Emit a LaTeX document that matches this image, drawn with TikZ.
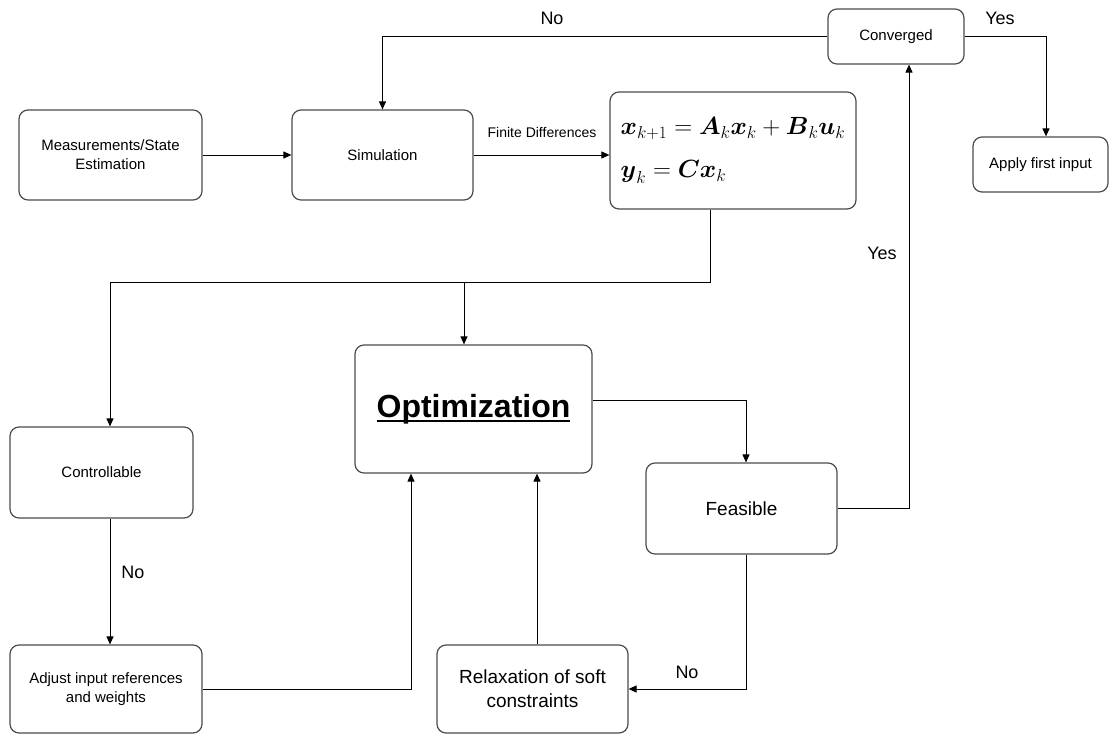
\documentclass[tikz,border=0pt]{standalone}
\usepackage{amsmath}
\usepackage[no-math]{fontspec}
\setmainfont{Liberation Sans}
\usepackage{tikz}
\usetikzlibrary{arrows.meta}
\tikzstyle{block} = [draw=black!70, line width=1.2pt, fill=white, rounded corners=9pt, align=center, inner sep=0pt, font=\fontsize{15}{19}\selectfont]
\tikzstyle{arrow} = [line width=1pt,->,>={Triangle[length=8pt,width=7pt]}]
\tikzstyle{lbl} = [inner sep=0pt, font=\fontsize{18}{22}\selectfont]
% underline that sits just under the baseline
\newcommand{\ulword}[1]{\setbox0\hbox{#1}\rlap{\rule[-5pt]{\wd0}{2pt}}\box0}

\begin{document}
\begin{tikzpicture}[x=1pt,y=-1pt]
	\useasboundingbox (0,0) rectangle (1109,734);
	% Blocks:
	% Every block is placed at its centre, sizes are given in pixels of the original sketch
	\node [block, minimum width=183pt, minimum height=90pt] (meas) at (110.5,155) {Measurements/State\\Estimation};
	\node [block, minimum width=181pt, minimum height=90pt] (sim) at (382.5,155) {Simulation};
	\node [block, minimum width=246pt, minimum height=117pt, align=left, font=\fontsize{26}{43}\selectfont] (model) at (733,150.5)
		{$\boldsymbol{x}_{k+1} = \boldsymbol{A}_k\boldsymbol{x}_k + \boldsymbol{B}_k\boldsymbol{u}_k$\\
		 $\boldsymbol{y}_k = \boldsymbol{C}\boldsymbol{x}_k$};
	\node [block, minimum width=136pt, minimum height=55pt] (conv) at (896,36.5) {Converged};
	\node [block, minimum width=135pt, minimum height=55pt] (apply) at (1040.5,164.5) {Apply first input};
	\node [block, minimum width=237pt, minimum height=128pt, font=\fontsize{32}{38}\selectfont\bfseries] (opt) at (473.5,409) {\ulword{Optimization}};
	\node [block, minimum width=191pt, minimum height=91pt, font=\fontsize{19}{24}\selectfont] (feas) at (741.5,508.5) {Feasible};
	\node [block, minimum width=183pt, minimum height=91pt] (ctrl) at (101.5,472.5) {Controllable};
	\node [block, minimum width=192pt, minimum height=88pt] (adjust) at (106,689) {Adjust input references\\and weights};
	\node [block, minimum width=191pt, minimum height=88pt, font=\fontsize{19}{24}\selectfont] (relax) at (532.5,689) {Relaxation of soft\\constraints};

	% Branch points of the model output:
	\coordinate (busR) at (710,282);
	\coordinate (busM) at (464,282);
	\coordinate (busL) at (110,282);

	% Connectors:
	\draw [arrow] (meas) -- (sim);
	\draw [arrow] (sim.east) -- (sim.east -| model.west);
	\draw [line width=1pt] (busR |- model.south) -- (busR) -- (busL);
	\draw [arrow] (busM) -- (busM |- opt.north);
	\draw [arrow] (busL) -- (busL |- ctrl.north);
	\draw [arrow] (busL |- ctrl.south) -- (busL |- adjust.north);
	\draw [arrow] (adjust.east) -| ([xshift=-62.5pt]opt.south);
	\draw [arrow] ([xshift=4.5pt]relax.north) -- ([xshift=4.5pt]relax.north |- opt.south);
	\draw [arrow] ([yshift=9pt]opt.east) -| ([xshift=4.5pt]feas.north);
	\draw [arrow] ([xshift=4.5pt]feas.south) |- (relax.east);
	\draw [arrow] (feas.east) -| ([xshift=13pt]conv.south);
	\draw [arrow] (conv.east) -| ([xshift=5.5pt]apply.north);
	\draw [arrow] (conv.west) -| (sim.north);

	% Labels:
	\node [inner sep=0pt, font=\fontsize{14}{17}\selectfont] (fd) at (542,132) {Finite Differences};
	\node [lbl] (noConv) at (552,18) {No};
	\node [lbl] (yesConv) at (1000,18) {Yes};
	\node [lbl] (yesFeas) at (882,253) {Yes};
	\node [lbl] (noCtrl) at (133,572) {No};
	\node [lbl] (noFeas) at (687,672) {No};
\end{tikzpicture}
\end{document}
